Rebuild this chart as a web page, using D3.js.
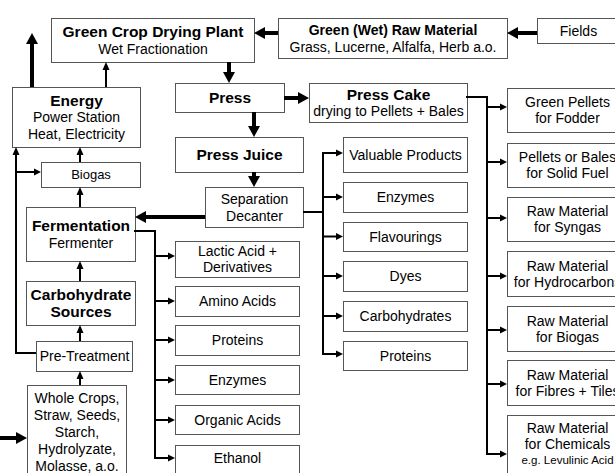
<!DOCTYPE html>
<html><head><meta charset="utf-8">
<script src="https://cdn.jsdelivr.net/npm/d3@7"></script>
<style>body{margin:0;background:#fff}svg{display:block}</style>
</head><body>
<svg id="c" width="615" height="473"></svg>
<script>
// ---- content (text of each node) ----
const mainNodes = [
  {id:"greenCrop", lines:[["Green Crop Drying Plant","b"],["Wet Fractionation","r"]]},
  {id:"greenRaw", lines:[["Green (Wet) Raw Material","b13"],["Grass, Lucerne, Alfalfa, Herb a.o.","r"]]},
  {id:"fields", lines:[["Fields","r"]]},
  {id:"press", lines:[["Press","b"]]},
  {id:"pressCake", lines:[["Press Cake","b"],["drying to Pellets + Bales","r"]]},
  {id:"energy", lines:[["Energy","b"],["Power Station","r"],["Heat, Electricity","r"]]},
  {id:"pressJuice", lines:[["Press Juice","b"]]},
  {id:"biogas", lines:[["Biogas","m"]]},
  {id:"separation", lines:[["Separation","r"],["Decanter","r"]]},
  {id:"fermentation", lines:[["Fermentation","b"],["Fermenter","r"]]},
  {id:"carbSources", lines:[["Carbohydrate","b"],["Sources","b"]]},
  {id:"preTreat", lines:[["Pre-Treatment","r"]]},
  {id:"wholeCrops", lines:[["Whole Crops,","r"],["Straw, Seeds,","r"],["Starch,","r"],["Hydrolyzate,","r"],["Molasse, a.o.","r"]]}
];
const fermentProducts = [["Lactic Acid +","Derivatives"],["Amino Acids"],["Proteins"],["Enzymes"],["Organic Acids"],["Ethanol"]];
const separationProducts = [["Valuable Products"],["Enzymes"],["Flavourings"],["Dyes"],["Carbohydrates"],["Proteins"]];
const pressCakeProducts = [["Green Pellets","for Fodder"],["Pellets or Bales","for Solid Fuel"],["Raw Material","for Syngas"],["Raw Material","for Hydrocarbons"],["Raw Material","for Biogas"],["Raw Material","for Fibres + Tiles"],["Raw Material","for Chemicals","e.g. Levulinic Acid"]];

// ---- layout ----
const layout = {
  greenCrop:[51,18,203,44], greenRaw:[278,18,229,40], fields:[537,18,82,25],
  press:[175,83,109,29], pressCake:[309,83,158,39], energy:[12,87,128,60],
  pressJuice:[175,137,128,35], biogas:[41,162,99,25], separation:[205,187,98,40],
  fermentation:[26,207,109,54], carbSources:[26,281,109,44], preTreat:[36,341,96,30],
  wholeCrops:[27,385,99,100,432]
};
const fermentLayout = [[241,36],[286,30],[325,30],[365,29],[405,29],[445,30,458]];
const sepLayout = [[137,35],[182,30],[222,29],[261,30],[301,30],[341,29]];
const cakeLayout = [[88,44,107],[143,44,162],[197,44,218],[251,45,276],[306,45,330],[360,45,384],[415,62,454,444]];

const styles = {
  b:{size:15.5,weight:"bold",lh:17}, b13:{size:14,weight:"bold",lh:17},
  r:{size:14,weight:"normal",lh:17}, m:{size:13,weight:"normal",lh:16},
  s:{size:11.5,weight:"normal",lh:15}
};

const svg = d3.select("#c");
const gBox = svg.append("g");
const gLine = svg.append("g");

function drawBox(x,y,w,h,lines,tc,lhOverride){
  gBox.append("rect").attr("x",x+0.5).attr("y",y+0.5).attr("width",w).attr("height",h)
    .attr("fill","#fff").attr("stroke","#555").attr("stroke-width",1);
  const st = lines.map(l=>styles[l[1]]);
  const lhs = st.map(s=>lhOverride||s.lh);
  const total = d3.sum(lhs);
  const cy = tc!=null ? tc : y+h/2;
  let top = cy - total/2;
  lines.forEach((l,i)=>{
    const c = top + lhs[i]/2;
    gBox.append("text").attr("x",x+w/2+0.5).attr("y",c+0.36*st[i].size)
      .attr("text-anchor","middle").attr("font-family","'Liberation Sans', Arial, sans-serif")
      .attr("font-size",st[i].size).attr("font-weight",st[i].weight).attr("fill","#000")
      .text(l[0]);
    top += lhs[i];
  });
}

mainNodes.forEach(n=>{
  const L = layout[n.id];
  drawBox(L[0],L[1],L[2],L[3],n.lines,L[4]);
});
const fermX=175, prodW=124, sepX=343, cakeX=507, cakeW=120;
fermentProducts.forEach((t,i)=>{
  const L=fermentLayout[i];
  drawBox(fermX,L[0],prodW,L[1],t.map(s=>[s,"r"]),L[2],16);
});
separationProducts.forEach((t,i)=>{
  const L=sepLayout[i];
  drawBox(sepX,L[0],prodW,L[1],t.map(s=>[s,"r"]),null,16);
});
pressCakeProducts.forEach((t,i)=>{
  const L=cakeLayout[i];
  drawBox(cakeX,L[0],cakeW,L[1],t.map((s,j)=>[s,j===2?"s":"r"]),L[3],16);
});

// ---- connectors ----
function arrow(pts,sw,hl,hw,head=true,cap="butt"){
  let p = pts.map(d=>d.slice());
  if(head){
    const n=p.length, a=p[n-2], b=p[n-1];
    const dx=b[0]-a[0], dy=b[1]-a[1], len=Math.hypot(dx,dy), ux=dx/len, uy=dy/len;
    const bx=b[0]-ux*hl, by=b[1]-uy*hl;
    p[n-1]=[bx+ux*0.5,by+uy*0.5];
    gLine.append("path").attr("d",`M${b[0]},${b[1]}L${bx-uy*hw/2},${by+ux*hw/2}L${bx+uy*hw/2},${by-ux*hw/2}Z`)
      .attr("fill","#000");
  }
  gLine.append("path").attr("d",d3.line()(p)).attr("fill","none").attr("stroke","#000")
    .attr("stroke-width",sw).attr("stroke-linejoin","miter").attr("stroke-linecap",cap);
}
const T=[4,11,12], S=[2,7,7], M=[2,8,7];
const thick=(pts)=>arrow(pts,...T);
const thin=(pts)=>arrow(pts,...S);

// main flow (thick)
thick([[537,33],[507,33]]);
thick([[278,33],[254,33]]);
thick([[229,62],[229,83]]);
thick([[284,98],[309,98]]);
thick([[254,112],[254,137]]);
thick([[254,172],[254,187]]);
thick([[205,217],[135,217]]);
thick([[32,87],[32,33]]);
thick([[0,438],[27,438]]);

// thin vertical links
arrow([[106,87],[106,62]],...M);
arrow([[80,162],[80,147]],...M);
arrow([[80,207],[80,187]],...M);
arrow([[80,281],[80,261]],...M);
arrow([[80,341],[80,325]],...M);
arrow([[80,385],[80,371]],...M);
arrow([[36,353],[16,353],[16,147]],...M);
arrow([[16,172],[41,172]],...S);

// fermentation branch
const fermY = fermentLayout.map((L,i)=>[256,301,340,380,420,458][i]);
arrow([[135,231],[155,231],[155,d3.max(fermY)]],2,0,0,false,"square");
fermY.forEach(y=>thin([[155,y],[175,y]]));

// separation branch
const sepY = sepLayout.map(L=>L[0]+L[1]/2);
sepY[0]=153; sepY[5]=354;
arrow([[303,212],[323,212]],2,0,0,false);
arrow([[323,d3.min(sepY)],[323,d3.max(sepY)]],2,0,0,false,"square");
sepY.forEach(y=>thin([[323,y],[343,y]]));

// press cake branch
const cakeY = cakeLayout.map(L=>L[2]);
arrow([[467,97],[487,97],[487,d3.max(cakeY)]],2,0,0,false,"square");
cakeY.forEach(y=>thin([[487,y],[507,y]]));
</script>
</body></html>
